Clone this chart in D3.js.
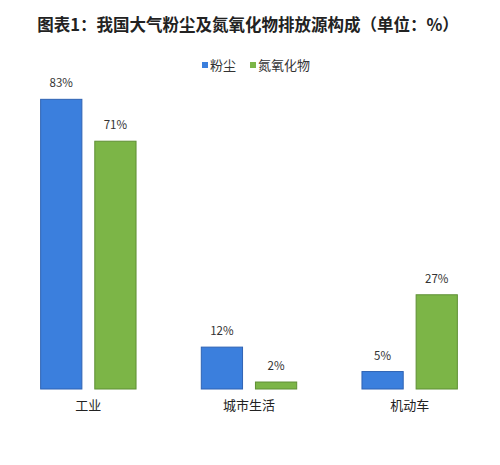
<!DOCTYPE html>
<html>
<head>
<meta charset="utf-8">
<script src="https://cdn.jsdelivr.net/npm/d3@7"></script>
<style>
  body { margin: 0; background: #fff; }
  text { font-family: "Noto Sans CJK SC", "Microsoft YaHei", sans-serif; }
</style>
</head>
<body>
<script>
// Chart data
const categories = ['工业', '城市生活', '机动车'];
const seriesNames = ['粉尘', '氮氧化物'];
const dust = [83, 12, 5];
const nox = [71, 2, 27];
const colors = ['#3b7fdd', '#7cb547'];
const strokes = ['#2f63b3', '#5f8f35'];

const width = 500;
const height = 465;
const margin = { top: 40, right: 10, bottom: 76, left: 8 };

const svg = d3.select('body')
    .append('svg')
    .attr('width', width)
    .attr('height', height);

// Title
svg.append('text')
    .attr('x', 248)
    .attr('y', 31)
    .attr('text-anchor', 'middle')
    .attr('font-size', 16.5)
    .attr('font-weight', 'bold')
    .attr('fill', '#222')
    .text('图表1：我国大气粉尘及氮氧化物排放源构成（单位：%）');

// Scales
const x0 = d3.scaleBand()
    .domain(categories)
    .range([margin.left, width - margin.right])
    .paddingInner(0.4)
    .paddingOuter(0.2);

const x1 = d3.scaleBand()
    .domain(seriesNames)
    .range([0, x0.bandwidth()])
    .paddingInner(0.22);

const y = d3.scaleLinear()
    .domain([0, 100])
    .range([height - margin.bottom, margin.top]);

// Rebuild the table for grouped bars
const table = categories.map((c, i) => ({
    category: c,
    values: [
        { name: seriesNames[0], value: dust[i], k: 0 },
        { name: seriesNames[1], value: nox[i], k: 1 }
    ]
}));

const groups = svg.selectAll('.group')
    .data(table)
    .enter()
    .append('g')
    .attr('class', 'group')
    .attr('transform', d => `translate(${x0(d.category)},0)`);

groups.selectAll('rect')
    .data(d => d.values)
    .enter()
    .append('rect')
    .attr('x', d => x1(d.name) + 0.5)
    .attr('y', d => y(d.value))
    .attr('width', x1.bandwidth() - 1)
    .attr('height', d => y(0) - y(d.value))
    .attr('fill', d => colors[d.k])
    .attr('stroke', d => strokes[d.k])
    .attr('stroke-width', 1);

// Value labels
groups.selectAll('.val')
    .data(d => d.values)
    .enter()
    .append('text')
    .attr('class', 'val')
    .attr('x', d => x1(d.name) + x1.bandwidth() / 2)
    .attr('y', d => y(d.value) - 12)
    .attr('text-anchor', 'middle')
    .attr('font-size', 11.5)
    .attr('fill', '#333')
    .text(d => d.value + '%');

// Category axis (no line, no ticks)
const xAxis = d3.axisBottom(x0).tickSize(0).tickPadding(12);
svg.append('g')
    .attr('transform', `translate(0,${y(0)})`)
    .call(xAxis)
    .call(g => g.select('.domain').remove())
    .call(g => g.selectAll('text')
        .attr('font-size', 13)
        .attr('fill', '#222')
        .style('font-family', '"Noto Sans CJK SC", sans-serif'));

// Legend
const legendX = [202, 250];
const legend = svg.selectAll('.legend')
    .data(seriesNames)
    .enter()
    .append('g')
    .attr('class', 'legend')
    .attr('transform', (d, i) => `translate(${legendX[i]},65)`);

legend.append('rect')
    .attr('x', 0)
    .attr('y', -3)
    .attr('width', 6)
    .attr('height', 6)
    .attr('fill', (d, i) => colors[i]);

legend.append('text')
    .attr('x', 8)
    .attr('y', 0)
    .attr('dy', '0.35em')
    .attr('font-size', 13)
    .attr('fill', '#333')
    .text(d => d);
</script>
</body>
</html>
